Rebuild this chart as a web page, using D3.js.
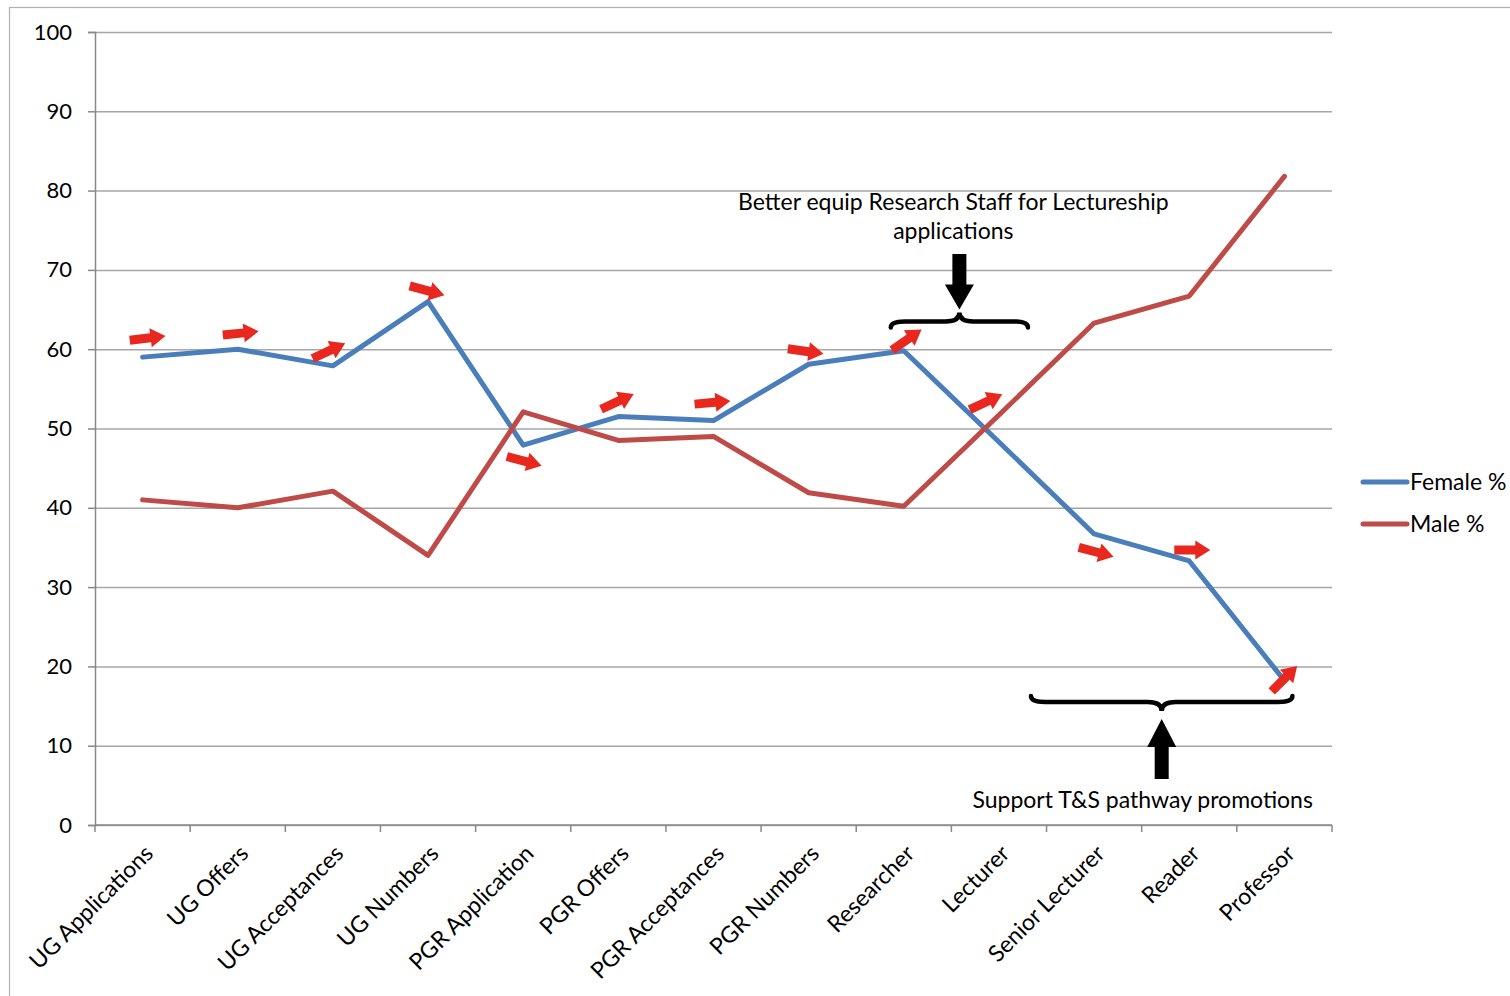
<!DOCTYPE html>
<html lang="en">
<head>
  <meta charset="UTF-8">
  <title>Female / Male % pipeline</title>
  <style>
    body {
      margin: 0;
      background: #ffffff;
      font-family: Lato, "Open Sans", sans-serif;
    }
    svg text {
      fill: #000;
    }
    .grid line {
      stroke: #a6a6a6;
      stroke-width: 1.5;
    }
    .grid path {
      display: none;
    }
  </style>
</head>
<body>
  <svg id="chart" width="1510" height="996"></svg>

  <script src="https://d3js.org/d3.v7.min.js"></script>
  <script>
    const categories = [
      "UG Applications", "UG Offers", "UG Acceptances", "UG Numbers",
      "PGR Application", "PGR Offers", "PGR Acceptances", "PGR Numbers",
      "Researcher", "Lecturer", "Senior Lecturer", "Reader", "Professor"
    ];
    const femalePct = [59, 60, 57.9, 66, 47.9, 51.5, 51, 58.1, 59.8, 48.3, 36.7, 33.3, 18.2];
    const malePct = [41, 40, 42.1, 34, 52.1, 48.5, 49, 41.9, 40.2, 51.7, 63.3, 66.7, 81.8];
    const yTicks = [0, 10, 20, 30, 40, 50, 60, 70, 80, 90, 100];
    const seriesNames = ["Female %", "Male %"];

    // red arrows next to each female point: [dx, dy, angle]
    const arrowOffsets = [
      [5, -19, -7], [3, -16, -6], [-4, -15, -25], [-1, -11, 15],
      [1, 16, 15], [-1, -15, -25], [-1, -18, -5], [-3, -13, 8],
      [3, -11, -35], [-13, -40, -25], [2, 18, 15], [3, -11, 0], [0, -2, -45]
    ];

    const margin = { left: 95, right: 178, top: 32, bottom: 171 };
    const W = 1510, H = 996;
    const plotW = W - margin.left - margin.right;
    const plotH = H - margin.top - margin.bottom;
    const blue = "#4a7ebb", red = "#be4b48";
    const fs = 23;

    const svg = d3.select("#chart");

    // outer frame
    svg.append("rect")
      .attr("x", 9.5).attr("y", 7.5)
      .attr("width", W).attr("height", H)
      .attr("fill", "none").attr("stroke", "#b0b0b0").attr("stroke-width", 1.2);

    const g = svg.append("g").attr("transform", `translate(${margin.left},${margin.top})`);

    const x = d3.scaleBand().domain(categories).range([0, plotW]);
    const cx = c => x(c) + x.bandwidth() / 2;
    const y = d3.scaleLinear().domain([0, 100]).range([plotH, 0]);

    // gridlines
    g.append("g").attr("class", "grid")
      .call(d3.axisLeft(y).tickValues(yTicks).tickSize(-plotW).tickFormat(""));

    // y axis
    const yAxis = g.append("g")
      .call(d3.axisLeft(y).tickValues(yTicks).tickSize(7).tickPadding(16));
    yAxis.select(".domain").attr("stroke", "#898989").attr("stroke-width", 1.5);
    yAxis.selectAll(".tick line").attr("stroke", "#898989").attr("stroke-width", 1.5);
    yAxis.selectAll(".tick text")
      .attr("font-size", 22).attr("font-family", "Lato, sans-serif").attr("fill", "#000");

    // x axis with ticks on band edges
    const xAxis = g.append("g").attr("transform", `translate(0,${plotH})`);
    xAxis.append("line").attr("x1", 0).attr("x2", plotW)
      .attr("stroke", "#898989").attr("stroke-width", 1.5);
    xAxis.selectAll(".xtick")
      .data(categories.concat(["__end"]))
      .enter().append("line")
      .attr("x1", (d, i) => i * x.bandwidth()).attr("x2", (d, i) => i * x.bandwidth())
      .attr("y1", 0).attr("y2", 7)
      .attr("stroke", "#898989").attr("stroke-width", 1.5);
    xAxis.selectAll(".xlabel")
      .data(categories)
      .enter().append("text")
      .attr("transform", d => `translate(${cx(d) + 12},${30}) rotate(-45)`)
      .attr("text-anchor", "end")
      .attr("font-size", fs)
      .text(d => d);

    // lines
    const line = d3.line().x((d, i) => cx(categories[i])).y(d => y(d));
    [[femalePct, blue], [malePct, red]].forEach(([vals, col]) => {
      g.append("path")
        .datum(vals)
        .attr("d", line)
        .attr("fill", "none")
        .attr("stroke", col)
        .attr("stroke-width", 5)
        .attr("stroke-linejoin", "round")
        .attr("stroke-linecap", "round");
    });

    // red block arrows
    const arrowPath = "M-18,-4.5 L3,-4.5 L3,-9.5 L18,0 L3,9.5 L3,4.5 L-18,4.5 Z";
    g.selectAll(".redArrow")
      .data(femalePct)
      .enter().append("path")
      .attr("d", arrowPath)
      .attr("fill", "#e8281e")
      .attr("transform", (d, i) => {
        const o = arrowOffsets[i];
        return `translate(${cx(categories[i]) + o[0]},${y(d) + o[1]}) rotate(${o[2]})`;
      });

    // curly brace, horizontal, tip up (dir=-1) or down (dir=1)
    function brace(x1, x2, yy, dir) {
      const xm = (x1 + x2) / 2;
      const e = 6 * dir, t = 9 * dir;
      return `M${x1},${yy - e} Q${x1},${yy} ${x1 + 14},${yy} L${xm - 14},${yy} ` +
        `Q${xm},${yy} ${xm},${yy + t} Q${xm},${yy} ${xm + 14},${yy} ` +
        `L${x2 - 14},${yy} Q${x2},${yy} ${x2},${yy - e}`;
    }
    function blockArrow(xc, yTip, yTail, headLen) {
      const s = yTail > yTip ? 1 : -1;
      const hb = yTip + s * headLen;
      return `M${xc},${yTip} L${xc + 14.5},${hb} L${xc + 7},${hb} L${xc + 7},${yTail} ` +
        `L${xc - 7},${yTail} L${xc - 7},${hb} L${xc - 14.5},${hb} Z`;
    }

    // top annotation (Researcher to Lecturer)
    const topX1 = cx("Researcher") - 13, topX2 = cx("Lecturer") + 29;
    const topMid = (topX1 + topX2) / 2;
    const topY = y(63.5);
    g.append("path").attr("d", brace(topX1, topX2, topY, -1))
      .attr("fill", "none").attr("stroke", "#000").attr("stroke-width", 4.5).attr("stroke-linecap", "round");
    g.append("path").attr("d", blockArrow(topMid, topY - 12, y(72), 25)).attr("fill", "#000");
    g.append("text").attr("x", topMid - 6).attr("y", y(77.6))
      .attr("text-anchor", "middle").attr("font-size", fs)
      .text("Better equip Research Staff for Lectureship");
    g.append("text").attr("x", topMid - 6).attr("y", y(73.9))
      .attr("text-anchor", "middle").attr("font-size", fs)
      .text("applications");

    // bottom annotation (Lecturer to Professor)
    const botX1 = cx("Lecturer") + 32, botX2 = cx("Professor") + 8;
    const botMid = (botX1 + botX2) / 2;
    const botY = y(15.5);
    g.append("path").attr("d", brace(botX1, botX2, botY, 1))
      .attr("fill", "none").attr("stroke", "#000").attr("stroke-width", 4.5).attr("stroke-linecap", "round");
    g.append("path").attr("d", blockArrow(botMid, botY + 17, y(5.8), 28)).attr("fill", "#000");
    g.append("text").attr("x", botMid - 19).attr("y", y(2.2))
      .attr("text-anchor", "middle").attr("font-size", fs)
      .text("Support T&S pathway promotions");

    // legend
    const legend = svg.append("g").attr("transform", "translate(1363,482)");
    seriesNames.forEach((name, i) => {
      const row = legend.append("g").attr("transform", `translate(0,${i * 42})`);
      row.append("line").attr("x1", 0).attr("x2", 44)
        .attr("stroke", i === 0 ? blue : red).attr("stroke-width", 5).attr("stroke-linecap", "round");
      row.append("text").attr("x", 47).attr("dy", "0.35em")
        .attr("font-size", fs).text(name);
    });
  </script>
</body>
</html>
